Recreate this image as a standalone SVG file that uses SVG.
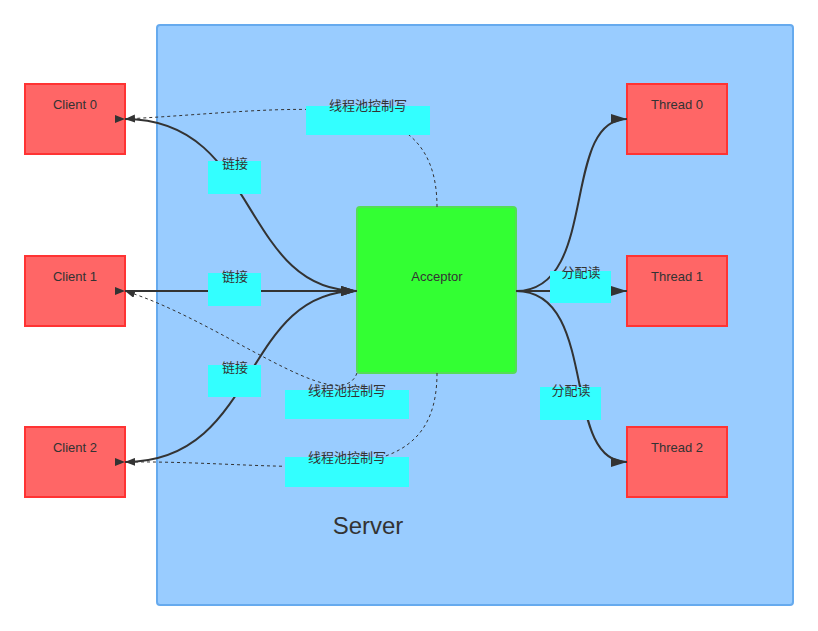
<svg xmlns="http://www.w3.org/2000/svg" width="818" height="631" viewBox="0 0 818 631">
<defs>
<marker id="big" markerWidth="10" markerHeight="8" refX="10" refY="4" orient="auto" markerUnits="userSpaceOnUse"><path d="M0,0 L16,4 L0,8 Z" fill="#333" transform="scale(0.625,1)"/></marker>
<marker id="big2" markerWidth="16" markerHeight="10" refX="16" refY="5" orient="auto" markerUnits="userSpaceOnUse"><path d="M0,0 L16,5 L0,10 Z" fill="#333"/></marker>
<marker id="sm" markerWidth="10" markerHeight="8" refX="10" refY="4" orient="auto" markerUnits="userSpaceOnUse"><path d="M0,0 L10,4 L0,8 Z" fill="#333"/></marker>
</defs>
<style>
.c{fill:#ff6666;stroke:#ff3333;stroke-width:2}
.t{font-family:"Liberation Sans","Noto Sans CJK SC",sans-serif;font-size:13px;fill:#333;text-anchor:middle}
.l{fill:#33ffff}
.s{fill:none;stroke:#333;stroke-width:2}
.d{fill:none;stroke:#333;stroke-width:1;stroke-dasharray:3,3}
</style>
<rect x="0" y="0" width="818" height="631" fill="#fff"/>
<g id="server"><rect x="157" y="25" width="636" height="580" rx="3" fill="#99ccff" stroke="#66aaee" stroke-width="2"/><text x="368" y="534" class="t" style="font-size:24px">Server</text></g>
<g id="client0"><rect class="c" x="25" y="84" width="100" height="70"/><text class="t" x="75" y="109">Client 0</text></g>
<g id="client1"><rect class="c" x="25" y="256" width="100" height="70"/><text class="t" x="75" y="281">Client 1</text></g>
<g id="client2"><rect class="c" x="25" y="427" width="100" height="70"/><text class="t" x="75" y="452">Client 2</text></g>
<g id="thread0"><rect class="c" x="627" y="84" width="100" height="70"/><text class="t" x="677" y="109">Thread 0</text></g>
<g id="thread1"><rect class="c" x="627" y="256" width="100" height="70"/><text class="t" x="677" y="281">Thread 1</text></g>
<g id="thread2"><rect class="c" x="627" y="427" width="100" height="70"/><text class="t" x="677" y="452">Thread 2</text></g>
<g id="acceptor"><rect x="357" y="207" width="159" height="166" rx="3" fill="#33ff33" stroke="#55dd55" stroke-width="2"/><text class="t" x="437" y="281">Acceptor</text></g>
<g id="connectors">
<path class="s" marker-start="url(#sm)" marker-end="url(#big2)" d="M125,119 C260,119 240,291 357,291"/>
<path class="s" marker-start="url(#sm)" marker-end="url(#big2)" d="M125,291 L357,291"/>
<path class="s" marker-start="url(#sm)" marker-end="url(#big2)" d="M125,462 C260,462 240,291 357,291"/>
<path class="d" marker-end="url(#sm)" d="M437,207 C437,80 300,110 125,119"/>
<path class="d" marker-end="url(#sm)" d="M357,373 C340,420 220,320 125,291"/>
<path class="d" marker-end="url(#sm)" d="M437,373 C437,500 300,460 125,462"/>
<path class="s" marker-end="url(#big2)" d="M516,291 C600,291 560,119 627,119"/>
<path class="s" marker-end="url(#big2)" d="M516,291 L627,291"/>
<path class="s" marker-end="url(#big2)" d="M516,291 C600,291 560,462 627,462"/>
</g>
<g id="labels">
<rect class="l" x="306" y="106" width="124" height="29"/><text class="t" x="368" y="110">线程池控制写</text>
<rect class="l" x="208" y="161" width="53" height="33"/><text class="t" x="235" y="168">链接</text>
<rect class="l" x="208" y="273" width="53" height="33"/><text class="t" x="235" y="281">链接</text>
<rect class="l" x="208" y="365" width="53" height="32"/><text class="t" x="235" y="372">链接</text>
<rect class="l" x="285" y="390" width="124" height="29"/><text class="t" x="347" y="395">线程池控制写</text>
<rect class="l" x="285" y="457" width="124" height="30"/><text class="t" x="347" y="462">线程池控制写</text>
<rect class="l" x="550" y="271" width="61" height="32"/><text class="t" x="581" y="277">分配读</text>
<rect class="l" x="540" y="387" width="61" height="33"/><text class="t" x="571" y="395">分配读</text>
</g>
</svg>
